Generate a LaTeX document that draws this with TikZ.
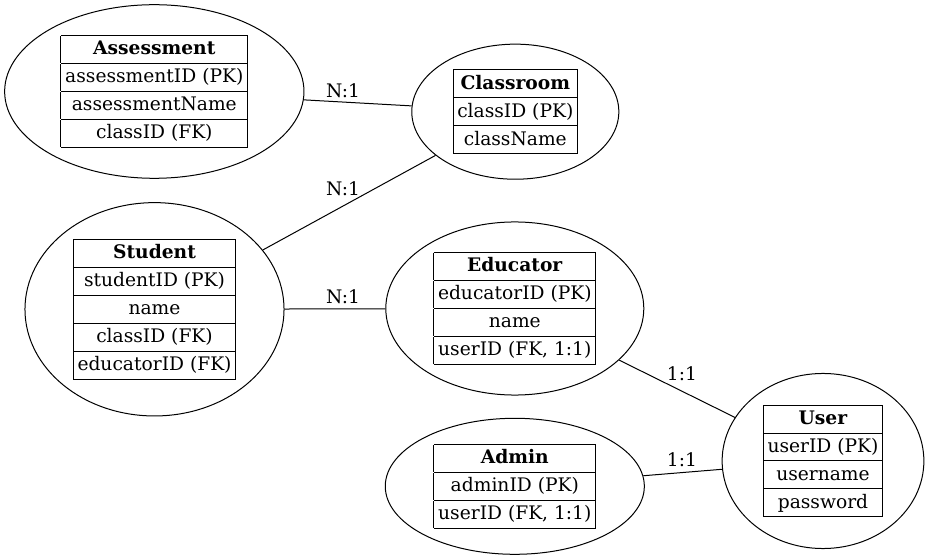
\documentclass[tikz,border=0pt]{standalone}
\usepackage{fontspec}
\setmainfont{DejaVu Serif}
\usetikzlibrary{shapes.geometric}

\setlength{\tabcolsep}{3.2pt}
\setlength{\arrayrulewidth}{0.75pt}
\renewcommand{\arraystretch}{1.19}

\tikzstyle{entity} = [draw, ellipse, inner sep=0pt, line width=0.75pt, font=\fontsize{14}{17}\selectfont]
\tikzstyle{rel} = [inner sep=0pt, font=\fontsize{14}{17}\selectfont]
\tikzstyle{link} = [line width=0.75pt]

\begin{document}
\begin{tikzpicture}[x=0.75pt,y=-0.75pt]
\useasboundingbox (0,0) rectangle (928,559);

% Entities
\node [entity, minimum width=224.5pt, minimum height=130.2pt] (assessment) at (154.3,91.5)
  {\begin{tabular}{|c|}\hline \textbf{Assessment}\\\hline assessmentID (PK)\\\hline assessmentName\\\hline classID (FK)\\\hline\end{tabular}};
\node [entity, minimum width=155.3pt, minimum height=101.3pt] (classroom) at (515.3,111.7)
  {\begin{tabular}{|c|}\hline \textbf{Classroom}\\\hline classID (PK)\\\hline className\\\hline\end{tabular}};
\node [entity, minimum width=194.3pt, minimum height=160pt] (student) at (154.5,309.3)
  {\begin{tabular}{|c|}\hline \textbf{Student}\\\hline studentID (PK)\\\hline name\\\hline classID (FK)\\\hline educatorID (FK)\\\hline\end{tabular}};
\node [entity, minimum width=193.5pt, minimum height=129.8pt] (educator) at (514.8,308.5)
  {\begin{tabular}{|c|}\hline \textbf{Educator}\\\hline educatorID (PK)\\\hline name\\\hline userID (FK, 1:1)\\\hline\end{tabular}};
\node [entity, minimum width=194.3pt, minimum height=102pt] (admin) at (514.8,486.3)
  {\begin{tabular}{|c|}\hline \textbf{Admin}\\\hline adminID (PK)\\\hline userID (FK, 1:1)\\\hline\end{tabular}};
\node [entity, minimum width=151.3pt, minimum height=131.3pt] (user) at (823,461)
  {\begin{tabular}{|c|}\hline \textbf{User}\\\hline userID (PK)\\\hline username\\\hline password\\\hline\end{tabular}};

% Relationships
\draw [link] (assessment) -- (classroom);
\draw [link] (student) -- (classroom);
\draw [link] (student) -- (educator);
\draw [link] (educator) -- (user);
\draw [link] (admin) -- (user);

% Cardinalities
\node [rel] (card1) at (343,91) {N:1};
\node [rel] (card2) at (343,188.5) {N:1};
\node [rel] (card3) at (343,297) {N:1};
\node [rel] (card4) at (682,373.5) {1:1};
\node [rel] (card5) at (682,459.5) {1:1};

\end{tikzpicture}
\end{document}
